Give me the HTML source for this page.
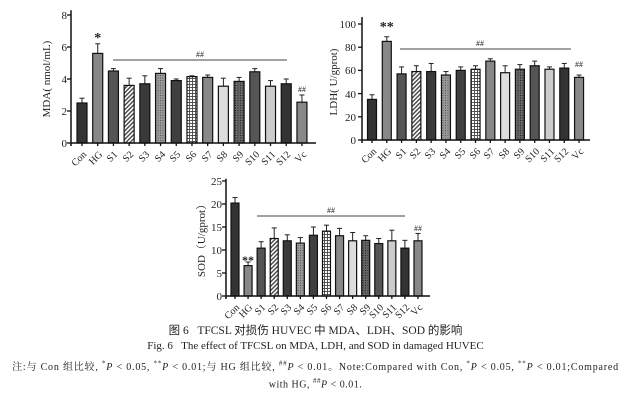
<!DOCTYPE html>
<html><head><meta charset="utf-8"><style>
body{margin:0;background:#fff;width:631px;height:414px;overflow:hidden}
svg{position:absolute;left:0;top:0}
text{font-family:"Liberation Serif","Noto Serif CJK SC",serif;fill:#222}
.t{font-size:11px}
.xl{font-size:10px}
.cap{font-family:"Liberation Serif","Noto Serif CJK SC",serif;position:absolute;left:0;width:631px;text-align:center;color:#222;white-space:nowrap}
sup{font-size:7px}
</style></head><body>
<svg id="s" width="631" height="414" xmlns="http://www.w3.org/2000/svg">
<defs>
<pattern id="hat" width="3" height="3" patternUnits="userSpaceOnUse" patternTransform="rotate(45)"><rect width="3" height="3" fill="#fff"/><rect width="1.4" height="3" fill="#444"/></pattern>
<pattern id="dot" width="2.5" height="2.5" patternUnits="userSpaceOnUse"><rect width="2.5" height="2.5" fill="#999"/><rect width="1" height="1" fill="#555"/></pattern>
<pattern id="dot2" width="2.5" height="2.5" patternUnits="userSpaceOnUse"><rect width="2.5" height="2.5" fill="#666"/><rect width="1" height="1" fill="#222"/></pattern>
<pattern id="grd" width="3" height="3" patternUnits="userSpaceOnUse"><rect width="3" height="3" fill="#fff"/><rect width="3" height="0.9" fill="#444"/><rect width="0.9" height="3" fill="#444"/></pattern>
</defs>
<g id="g"></g>
<g class="t" text-anchor="end">
<text x="67" y="147">0</text><text x="67" y="115">2</text><text x="67" y="83">4</text><text x="67" y="51">6</text><text x="67" y="19">8</text>
<text x="356" y="144">0</text><text x="356" y="121">20</text><text x="356" y="98">40</text><text x="356" y="74">60</text><text x="356" y="51">80</text><text x="356" y="28">100</text>
<text x="222" y="300">0</text><text x="222" y="277">5</text><text x="222" y="254">10</text><text x="222" y="231">15</text><text x="222" y="208">20</text><text x="222" y="185">25</text>
</g>
<text class="t" transform="translate(50,79) rotate(-90)" text-anchor="middle">MDA( nmol/mL)</text>
<text class="t" transform="translate(337,82) rotate(-90)" text-anchor="middle">LDH( U/gprot)</text>
<text class="t" transform="translate(205,238) rotate(-90)" text-anchor="middle">SOD（U/gprot）</text>
<g class="xl" text-anchor="end">
<text transform="translate(87,155) rotate(-45)">Con</text><text transform="translate(103,155) rotate(-45)">HG</text><text transform="translate(118,155) rotate(-45)">S1</text><text transform="translate(134,155) rotate(-45)">S2</text><text transform="translate(150,155) rotate(-45)">S3</text><text transform="translate(166,155) rotate(-45)">S4</text><text transform="translate(181,155) rotate(-45)">S5</text><text transform="translate(197,155) rotate(-45)">S6</text><text transform="translate(213,155) rotate(-45)">S7</text><text transform="translate(228,155) rotate(-45)">S8</text><text transform="translate(244,155) rotate(-45)">S9</text><text transform="translate(260,155) rotate(-45)">S10</text><text transform="translate(276,155) rotate(-45)">S11</text><text transform="translate(291,155) rotate(-45)">S12</text><text transform="translate(307,155) rotate(-45)">Vc</text>
<text transform="translate(377,152) rotate(-45)">Con</text><text transform="translate(392,152) rotate(-45)">HG</text><text transform="translate(407,152) rotate(-45)">S1</text><text transform="translate(421,152) rotate(-45)">S2</text><text transform="translate(436,152) rotate(-45)">S3</text><text transform="translate(451,152) rotate(-45)">S4</text><text transform="translate(466,152) rotate(-45)">S5</text><text transform="translate(481,152) rotate(-45)">S6</text><text transform="translate(495,152) rotate(-45)">S7</text><text transform="translate(510,152) rotate(-45)">S8</text><text transform="translate(525,152) rotate(-45)">S9</text><text transform="translate(540,152) rotate(-45)">S10</text><text transform="translate(555,152) rotate(-45)">S11</text><text transform="translate(569,152) rotate(-45)">S12</text><text transform="translate(584,152) rotate(-45)">Vc</text>
<text transform="translate(240,308) rotate(-45)">Con</text><text transform="translate(253,308) rotate(-45)">HG</text><text transform="translate(266,308) rotate(-45)">S1</text><text transform="translate(279,308) rotate(-45)">S2</text><text transform="translate(292,308) rotate(-45)">S3</text><text transform="translate(305,308) rotate(-45)">S4</text><text transform="translate(318,308) rotate(-45)">S5</text><text transform="translate(332,308) rotate(-45)">S6</text><text transform="translate(345,308) rotate(-45)">S7</text><text transform="translate(358,308) rotate(-45)">S8</text><text transform="translate(371,308) rotate(-45)">S9</text><text transform="translate(384,308) rotate(-45)">S10</text><text transform="translate(397,308) rotate(-45)">S11</text><text transform="translate(410,308) rotate(-45)">S12</text><text transform="translate(423,308) rotate(-45)">Vc</text>
</g>
<g font-size="8" text-anchor="middle">
<text x="200" y="57">##</text><text x="302" y="92">##</text>
<text x="480" y="46">##</text><text x="579" y="67">##</text>
<text x="331" y="213">##</text><text x="418" y="231">##</text>
</g>
<g font-size="14" font-weight="bold" text-anchor="middle">
<text x="97.7" y="42">*</text><text x="386.8" y="31">**</text>
</g>
<text x="248" y="264" font-size="12" font-weight="bold" text-anchor="middle">**</text>
</svg>
<div class="cap" style="top:322px;font-size:11.5px;font-family:'Liberation Serif','Noto Sans CJK SC',sans-serif">图 6&nbsp;&nbsp;&nbsp;TFCSL 对损伤 HUVEC 中 MDA、LDH、SOD 的影响</div>
<div class="cap" style="top:340px;font-size:11px">Fig. 6&nbsp;&nbsp;&nbsp;The effect of TFCSL on MDA, LDH, and SOD in damaged HUVEC</div>
<div class="cap" style="top:358px;font-size:10px;letter-spacing:0.8px">注:与 Con 组比较, <sup>*</sup><i>P</i> &lt; 0.05, <sup>**</sup><i>P</i> &lt; 0.01;与 HG 组比较, <sup>##</sup><i>P</i> &lt; 0.01。Note:Compared with Con, <sup>*</sup><i>P</i> &lt; 0.05, <sup>**</sup><i>P</i> &lt; 0.01;Compared</div>
<div class="cap" style="top:377px;font-size:10px;letter-spacing:0.5px">with HG, <sup>##</sup><i>P</i> &lt; 0.01.</div>
<script>
var fills=['#333','#888','#555','url(#hat)','#3a3a3a','url(#dot)','#404040','url(#grd)','#888','#ddd','url(#dot2)','#555','#ccc','#333','#888'];
var charts=[
{ax:71,y0:143,px:16,ymax:8.3,step:2,c0:82,dc:15.71,w:10,xe:316,
v:[2.5,5.6,4.5,3.6,3.7,4.35,3.9,4.15,4.1,3.55,3.85,4.45,3.55,3.7,2.55],
e:[0.3,0.6,0.15,0.45,0.5,0.3,0.1,0.05,0.15,0.5,0.25,0.2,0.35,0.3,0.45],line:[60,113,287]},
{ax:362,y0:140,px:1.16,ymax:106,step:20,c0:372,dc:14.79,w:9,xe:590,
v:[35,85,57,59,59,56,60,61,68,58,61,64,61,62,54],
e:[4,4,6,5,7,3,3,3,2,6,4,4,2,4,2],line:[49,400,571]},
{ax:226,y0:296,px:4.6,ymax:25.5,step:5,c0:235,dc:13.07,w:8,xe:430,
v:[20.2,6.6,10.4,12.5,12,11.5,13.2,14.1,13.1,12,12.1,11.4,12,10.4,12],
e:[1.2,0.8,1.4,2.3,1.3,1.2,1.8,1.3,1.6,1.8,1,1.1,2.3,1.7,1.6],line:[216,257,405]}];
var h='';
charts.forEach(function(c){
 c.v.forEach(function(v,i){
  var x=c.c0+i*c.dc,top=c.y0-v*c.px,et=c.y0-(v+c.e[i])*c.px;
  h+='<line x1="'+x+'" x2="'+x+'" y1="'+top+'" y2="'+et+'" stroke="#222" stroke-width="1"/>';
  h+='<line x1="'+(x-2.5)+'" x2="'+(x+2.5)+'" y1="'+et+'" y2="'+et+'" stroke="#222" stroke-width="1"/>';
  h+='<rect x="'+(x-c.w/2)+'" y="'+top+'" width="'+c.w+'" height="'+(c.y0-top)+'" fill="'+fills[i]+'" stroke="#111" stroke-width="1.2"/>';
  h+='<line x1="'+x+'" x2="'+x+'" y1="'+c.y0+'" y2="'+(c.y0+3)+'" stroke="#111" stroke-width="1.3"/>';
 });
 h+='<line x1="'+c.ax+'" x2="'+c.ax+'" y1="'+(c.y0-c.ymax*c.px)+'" y2="'+(c.y0+3)+'" stroke="#111" stroke-width="1.5"/>';
 h+='<line x1="'+c.ax+'" x2="'+c.xe+'" y1="'+c.y0+'" y2="'+c.y0+'" stroke="#111" stroke-width="1.5"/>';
 for(var t=0;t<=c.ymax;t+=c.step){var y=c.y0-t*c.px;h+='<line x1="'+(c.ax-4)+'" x2="'+c.ax+'" y1="'+y+'" y2="'+y+'" stroke="#111" stroke-width="1.3"/>';}
 h+='<line x1="'+c.line[1]+'" x2="'+c.line[2]+'" y1="'+c.line[0]+'" y2="'+c.line[0]+'" stroke="#444" stroke-width="0.9"/>';
});
document.getElementById('g').innerHTML=h;
</script>
</body></html>
